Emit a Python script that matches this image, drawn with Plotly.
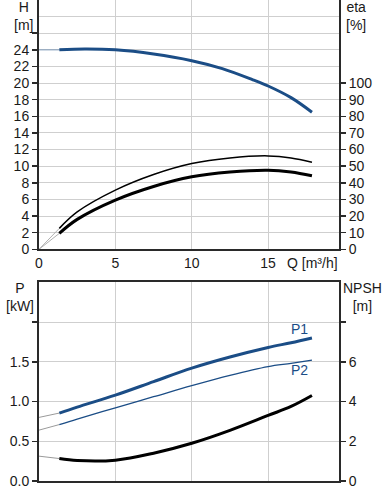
import plotly.graph_objects as go

# ---------------- data ----------------
q_ext = [0.0, 1.33]
q_pts = [1.33, 3.0, 5.0, 7.5, 10.0, 12.0, 14.0, 15.0, 16.5, 17.87]
head = [24.0, 24.1, 24.0, 23.5, 22.7, 21.75, 20.4, 19.65, 18.25, 16.5]
head_ext = [24.0, 24.0]

q_eta = [1.33, 2.5, 5.0, 7.5, 10.0, 12.5, 15.0, 16.5, 17.87]
eta_thin = [12.6, 22.5, 35.6, 45.0, 51.6, 55.0, 56.2, 55.0, 52.4]
eta_thick = [9.6, 18.0, 29.6, 37.8, 43.6, 46.5, 47.6, 46.5, 44.2]
eta_thin_ext = [0.0, 12.6]
eta_thick_ext = [0.0, 9.6]

q_p = [1.33, 2.5, 5.0, 7.5, 10.0, 12.5, 15.0, 16.5, 17.87]
p1 = [0.855, 0.93, 1.08, 1.25, 1.42, 1.56, 1.68, 1.74, 1.80]
p2 = [0.71, 0.78, 0.92, 1.06, 1.20, 1.33, 1.44, 1.48, 1.52]
npsh = [1.13, 1.03, 1.05, 1.40, 1.90, 2.55, 3.30, 3.75, 4.30]
p1_ext = [0.80, 0.855]
p2_ext = [0.64, 0.71]
npsh_ext = [1.25, 1.13]

h_ticks = [0, 2, 4, 6, 8, 10, 12, 14, 16, 18, 20, 22, 24, 26]
h_labels = ["0", "2", "4", "6", "8", "10", "12", "14", "16", "18", "20", "22", "24", ""]
eta_ticks = [0, 10, 20, 30, 40, 50, 60, 70, 80, 90, 100]
p_ticks = [0.0, 0.5, 1.0, 1.5, 2.0]
p_labels = ["0.0", "0.5", "1.0", "1.5", ""]
npsh_ticks = [0, 2, 4, 6, 8]
npsh_labels = ["0", "2", "4", "6", ""]
q_ticks = [0, 5, 10, 15]

BLUE = "#1b4d86"
GRID = "#cfcfcf"
AX = "#2a2a2a"
FONT = "Liberation Sans, Arial, sans-serif"

fig = go.Figure()

def add(x, y, xa, ya, color, width, shape="spline"):
    fig.add_trace(go.Scatter(x=x, y=y, xaxis=xa, yaxis=ya, mode="lines",
                             line=dict(color=color, width=width, shape=shape),
                             hoverinfo="skip", showlegend=False))

# top chart
add(q_ext, head_ext, "x", "y", "#7f9bbb", 1, "linear")
add(q_pts, head, "x", "y", BLUE, 3)
add(q_ext, eta_thin_ext, "x", "y2", "#b0b0b0", 1, "linear")
add(q_ext, eta_thick_ext, "x", "y2", "#b0b0b0", 1, "linear")
add(q_eta, eta_thin, "x", "y2", "#000000", 1.5)
add(q_eta, eta_thick, "x", "y2", "#000000", 3)

# bottom chart
add(q_ext, p1_ext, "x2", "y3", "#9a9a9a", 1, "linear")
add(q_ext, p2_ext, "x2", "y3", "#9a9a9a", 1, "linear")
add(q_ext, npsh_ext, "x2", "y4", "#9a9a9a", 1, "linear")
add(q_p, p1, "x2", "y3", BLUE, 3)
add(q_p, p2, "x2", "y3", BLUE, 1.3)
add(q_p, npsh, "x2", "y4", "#000000", 3)

tickfont = dict(family=FONT, size=14, color="#1a1a1a")
XR = [0, 19.64]
TOP_DOM = [0.4817, 1.0]
BOT_DOM = [0.0, 0.4131]

fig.update_layout(
    width=388, height=500,
    margin=dict(l=39, r=49, t=0, b=19, autoexpand=False),
    paper_bgcolor="white", plot_bgcolor="white",
    font=dict(family=FONT, size=14, color="#1a1a1a"),
    xaxis=dict(domain=[0, 1], range=XR, anchor="y", tickvals=q_ticks,
               showgrid=True, gridcolor=GRID, gridwidth=1, zeroline=False,
               showline=True, linecolor=AX, linewidth=2, ticks="",
               tickfont=tickfont, automargin=False),
    yaxis=dict(domain=TOP_DOM, range=[0, 30], anchor="x", tickvals=h_ticks,
               ticktext=h_labels, showgrid=True, gridcolor=GRID, gridwidth=1,
               zeroline=False, showline=True, linecolor=AX, linewidth=2,
               ticks="outside", ticklen=5, tickcolor=AX, tickwidth=1.5,
               tickfont=tickfont, automargin=False,
               minor=dict(tickvals=[28], showgrid=True, gridcolor=GRID, ticks="")),
    yaxis2=dict(range=[0, 150], overlaying="y", side="right", anchor="x",
                tickvals=eta_ticks, showgrid=False, zeroline=False,
                showline=True, linecolor=AX, linewidth=2, ticks="outside",
                ticklen=5, tickcolor=AX, tickwidth=1.5, tickfont=tickfont,
                automargin=False),
    xaxis2=dict(domain=[0, 1], range=XR, anchor="y3", tickvals=q_ticks,
                showticklabels=False, showgrid=True, gridcolor=GRID, gridwidth=1,
                zeroline=False, showline=True, linecolor=AX, linewidth=2,
                mirror=True, ticks="", automargin=False),
    yaxis3=dict(domain=BOT_DOM, range=[0, 2.5], anchor="x2", tickvals=p_ticks,
                ticktext=p_labels, showgrid=True, gridcolor=GRID, gridwidth=1,
                zeroline=False, showline=True, linecolor=AX, linewidth=2,
                ticks="outside", ticklen=5, tickcolor=AX, tickwidth=1.5,
                tickfont=tickfont, automargin=False),
    yaxis4=dict(range=[0, 10], overlaying="y3", side="right", anchor="x2",
                tickvals=npsh_ticks, ticktext=npsh_labels, showgrid=False,
                zeroline=False, showline=True, linecolor=AX, linewidth=2,
                ticks="outside", ticklen=5, tickcolor=AX, tickwidth=1.5,
                tickfont=tickfont, automargin=False),
)

W = 388 - 39 - 49
H = 500 - 0 - 19
def px(xp): return (xp - 39) / W
def py(yp): return (481 - yp) / H

def ann(text, x, y, xanchor="center", yanchor="middle", color="#1a1a1a", **kw):
    fig.add_annotation(text=text, x=px(x), y=py(y), xref="paper", yref="paper",
                       xanchor=xanchor, yanchor=yanchor, showarrow=False,
                       font=dict(family=FONT, size=14, color=color), **kw)

ann("H<br>[m]", 23, 16, align="center")
ann("eta<br>[%]", 356, 16, align="center")
ann("P<br>[kW]", 20, 297, align="center")
ann("NPSH<br>[m]", 362, 297, align="center")
ann("Q [m³/h]", 285, 263, xanchor="left")

# curve labels attached to curve ends
fig.add_annotation(text="P1", x=q_p[-1], y=p1[-1], xref="x2", yref="y3",
                   showarrow=False, xshift=-12, yshift=9,
                   font=dict(family=FONT, size=14, color=BLUE))
fig.add_annotation(text="P2", x=q_p[-1], y=p2[-1], xref="x2", yref="y3",
                   showarrow=False, xshift=-12, yshift=-10,
                   font=dict(family=FONT, size=14, color=BLUE))

fig.write_html("out.html",
               config={"displayModeBar": False, "staticPlot": True},
               post_script="document.body.style.margin='0px';"
                           "document.body.style.padding='0px';"
                           "document.body.style.overflow='hidden';")
